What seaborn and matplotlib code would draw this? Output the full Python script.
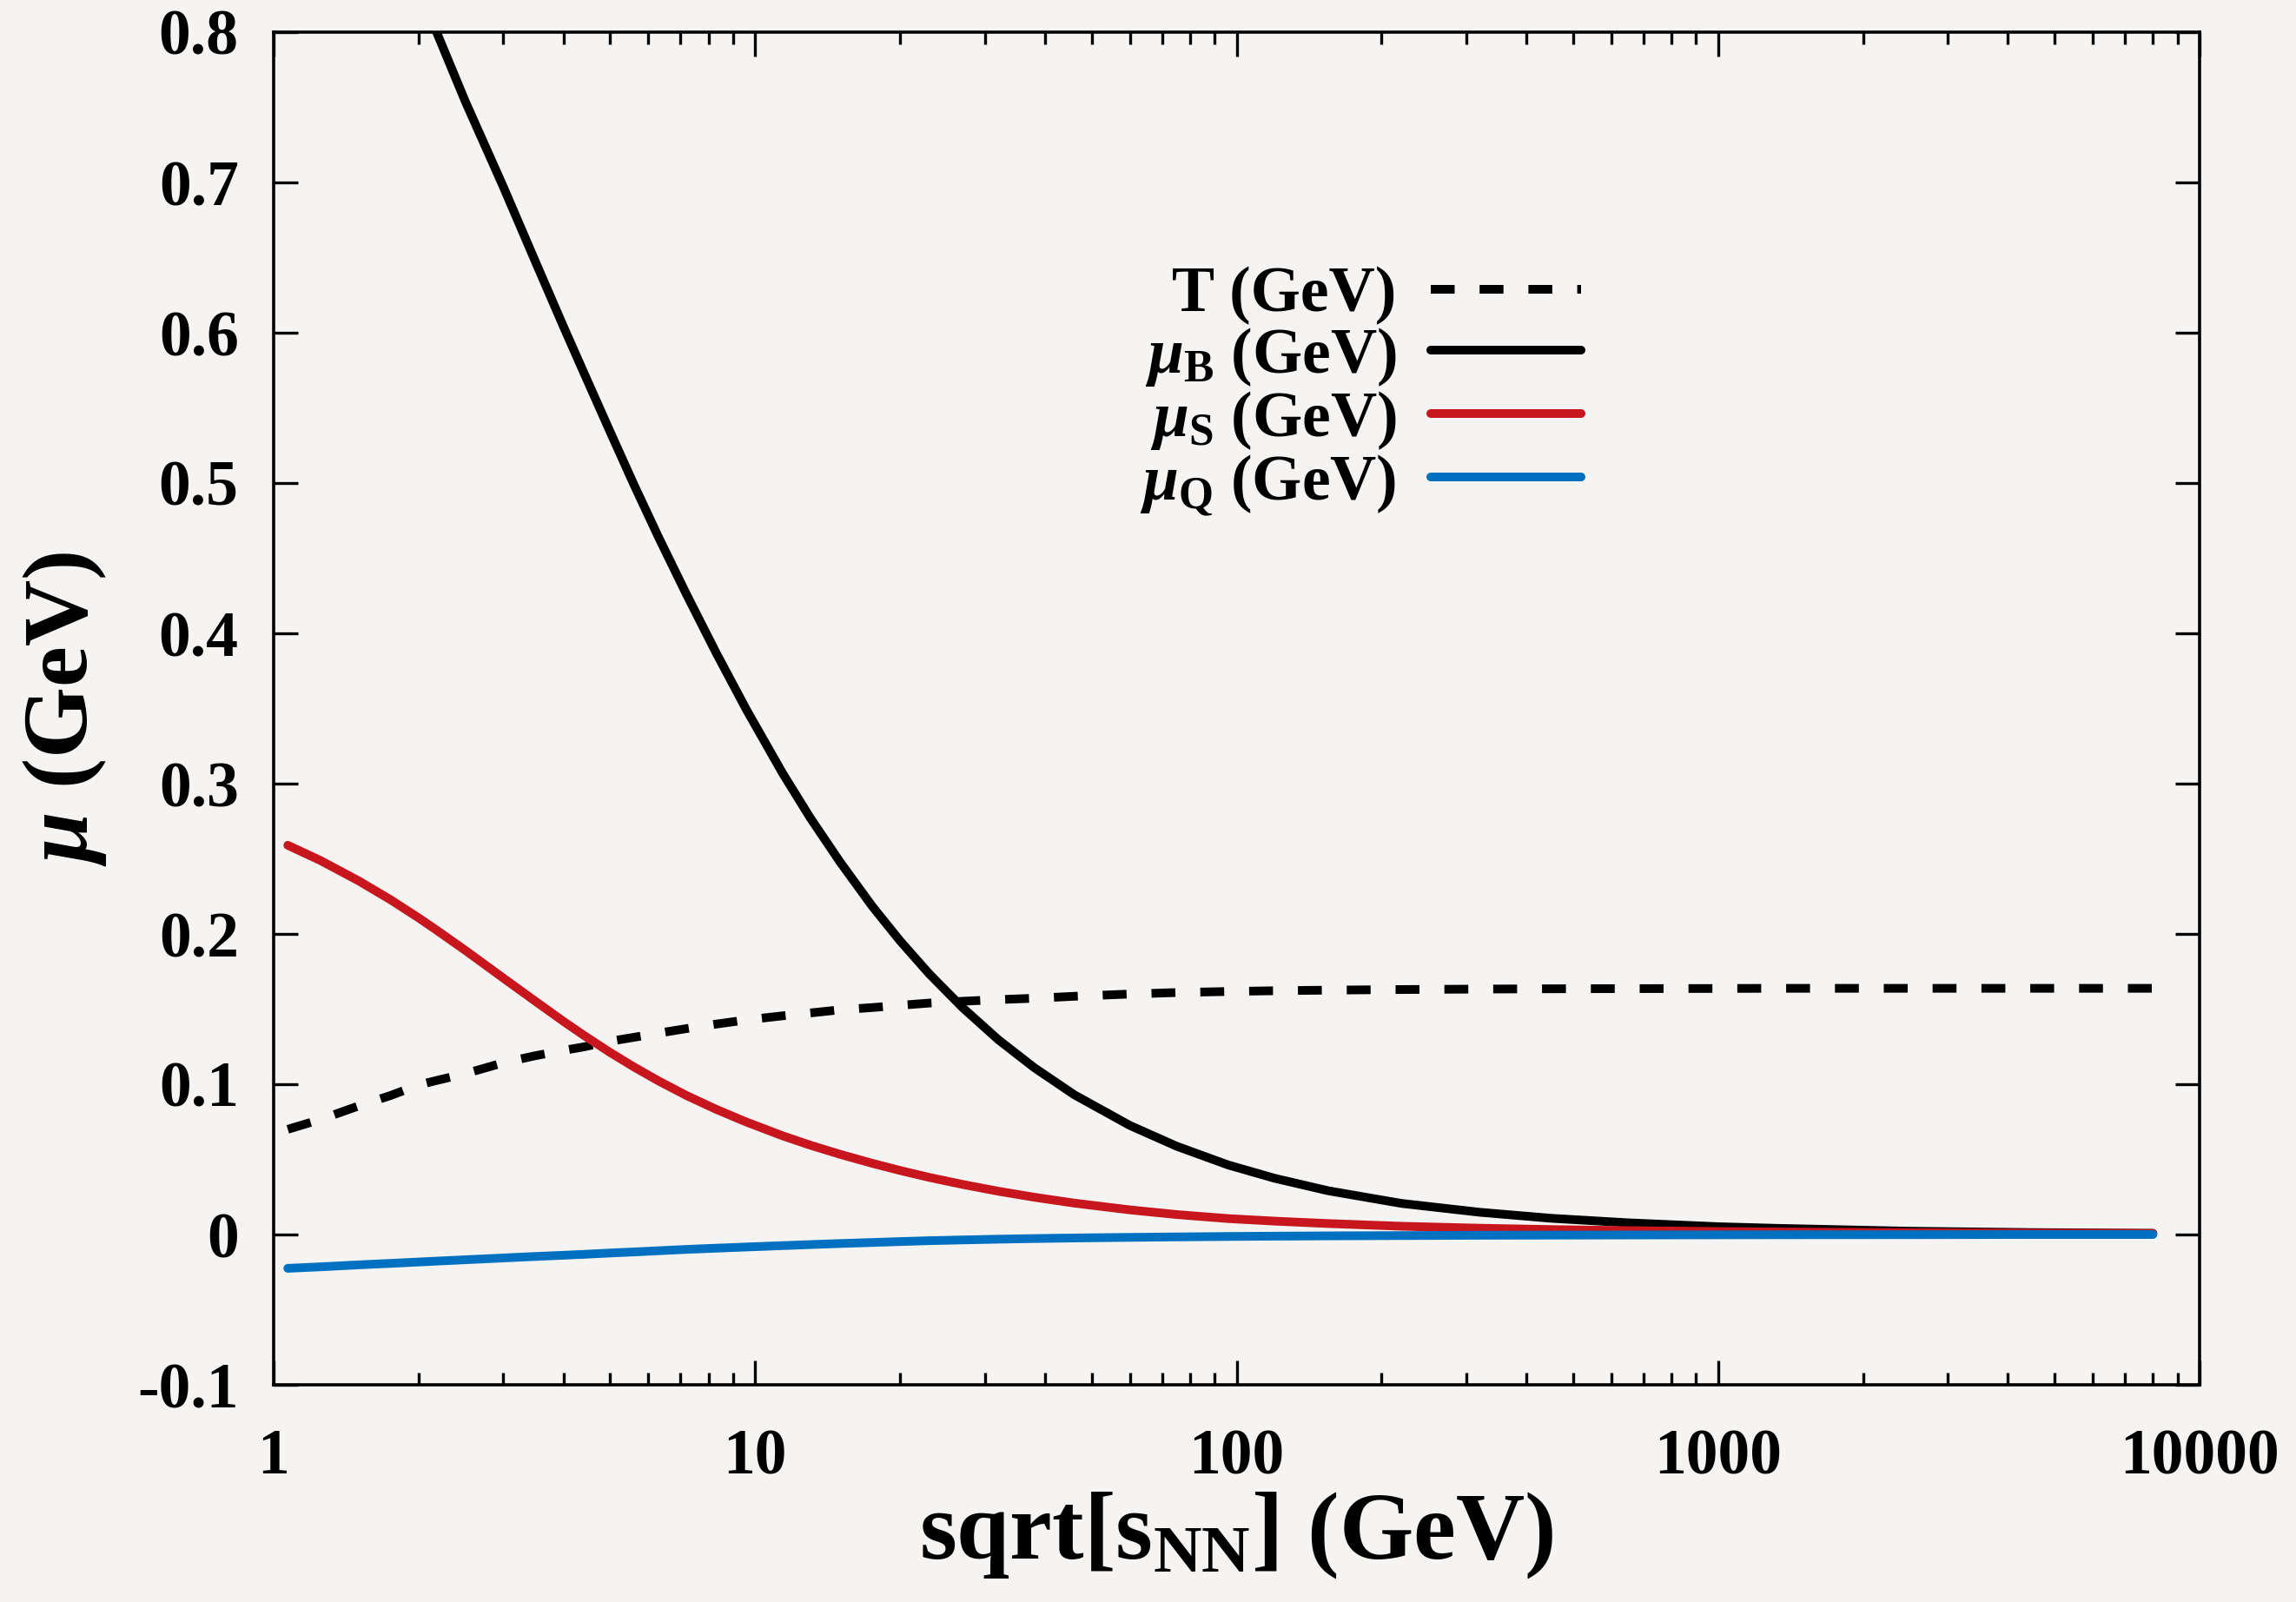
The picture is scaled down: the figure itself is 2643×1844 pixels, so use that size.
import numpy as np
import pandas as pd
import matplotlib
matplotlib.use("Agg")
import matplotlib.pyplot as plt
from matplotlib.ticker import FixedLocator, FixedFormatter, LogLocator, NullFormatter
import seaborn as sns

# values
sqrt_s = [1.07, 1.25, 1.5, 1.75, 2.0, 2.18, 2.5, 3.0, 3.5, 4.0, 4.4, 5.0, 5.6, 6.3, 7.2, 8.3, 9.6, 11.4, 13, 15,
          17.5, 20, 23, 27, 32, 38, 46, 60, 75, 96, 120, 155, 220, 320, 450, 650, 1000, 1330, 2500, 4500, 8000]
T_vals = [0.070, 0.0765, 0.0855, 0.0925, 0.0995, 0.1025, 0.107, 0.1143, 0.119, 0.1225, 0.1248, 0.1286, 0.1312,
          0.134, 0.137, 0.140, 0.1428, 0.1455, 0.1474, 0.1495, 0.151, 0.1525, 0.154, 0.1552, 0.1563, 0.1572,
          0.1585, 0.160, 0.161, 0.1617, 0.1622, 0.1626, 0.163, 0.1633, 0.1635, 0.1636, 0.1637, 0.1638, 0.1638,
          0.1638, 0.1638]
muS_vals = [0.259, 0.2489, 0.2354, 0.2227, 0.2107, 0.2025, 0.1891, 0.1706, 0.1551, 0.1418, 0.1327, 0.1211,
            0.1115, 0.1022, 0.0925, 0.0833, 0.0748, 0.0657, 0.0595, 0.0534, 0.0474, 0.0426, 0.038, 0.0333,
            0.0288, 0.0248, 0.0209, 0.0164, 0.0133, 0.0106, 0.0089, 0.0073, 0.0055, 0.0042, 0.0033, 0.0026,
            0.002, 0.0017, 0.0012, 0.0009, 0.0007]
muQ_vals = [-0.0225, -0.0215, -0.0202, -0.0192, -0.0183, -0.0177, -0.0168, -0.0156, -0.0146, -0.0138, -0.0132,
            -0.0123, -0.0116, -0.0108, -0.0099, -0.0091, -0.0083, -0.0074, -0.0067, -0.006, -0.0053, -0.0047,
            -0.0041, -0.0036, -0.0031, -0.0027, -0.0023, -0.0019, -0.0016, -0.0013, -0.0011, -0.0009, -0.0007,
            -0.0005, -0.0004, -0.0003, -0.0002, -0.00015, -0.0001, 0.0, 0.0]
# mu_B leaves the frame above 0.8 below sqrt(s) ~ 2.2
sqrt_s_B = [2.18, 2.5, 3.0, 3.5, 4.0, 4.4, 5.0, 5.6, 6.3, 7.2, 8.3, 9.6, 11.4, 13, 15, 17.5, 20, 23, 27, 32, 38,
            46, 60, 75, 96, 120, 155, 220, 320, 450, 650, 1000, 1330, 2500, 4500, 8000]
muB_vals = [0.800, 0.754, 0.697, 0.647, 0.604, 0.574, 0.534, 0.499, 0.464, 0.426, 0.387, 0.349, 0.307, 0.2775,
            0.248, 0.2185, 0.1954, 0.1734, 0.1508, 0.1296, 0.111, 0.093, 0.0726, 0.0588, 0.0463, 0.0374, 0.0291,
            0.0207, 0.0148, 0.0108, 0.0078, 0.0052, 0.0041, 0.0022, 0.0013, 0.0008]

series_names = ["T (GeV)", r"$\mu_{\rm B}$ (GeV)", r"$\mu_{\rm S}$ (GeV)", r"$\mu_{\rm Q}$ (GeV)"]
series_colors = ["#000000", "#000000", "#c8161e", "#0070c0"]

xtick_vals = [1, 10, 100, 1000, 10000]
xtick_labels = ["1", "10", "100", "1000", "10000"]
ytick_vals = [-0.1, 0.0, 0.1, 0.2, 0.3, 0.4, 0.5, 0.6, 0.7, 0.8]
ytick_labels = ["-0.1", "0", "0.1", "0.2", "0.3", "0.4", "0.5", "0.6", "0.7", "0.8"]

df = pd.concat([
    pd.DataFrame({"s": sqrt_s, "val": T_vals, "series": series_names[0]}),
    pd.DataFrame({"s": sqrt_s_B, "val": muB_vals, "series": series_names[1]}),
    pd.DataFrame({"s": sqrt_s, "val": muS_vals, "series": series_names[2]}),
    pd.DataFrame({"s": sqrt_s, "val": muQ_vals, "series": series_names[3]}),
], ignore_index=True)

sns.set_style("ticks")
bg = "#f5f4f2"
plt.rcParams["font.family"] = ["Liberation Serif", "DejaVu Serif"]
plt.rcParams["font.weight"] = "bold"
plt.rcParams["text.color"] = "black"
plt.rcParams["axes.labelcolor"] = "black"
plt.rcParams["xtick.color"] = "black"
plt.rcParams["ytick.color"] = "black"
plt.rcParams["mathtext.fontset"] = "custom"
plt.rcParams["mathtext.rm"] = "Liberation Serif:bold"
plt.rcParams["mathtext.bf"] = "Liberation Serif:bold"
plt.rcParams["mathtext.it"] = "Liberation Serif:italic"
plt.rcParams["lines.dash_capstyle"] = "butt"

fig = plt.figure(figsize=(26.43, 18.44), dpi=100, facecolor=bg)
ax = fig.add_axes([315 / 2643, 1 - 1594 / 1844, 2217 / 2643, 1557 / 1844])
ax.set_facecolor(bg)

lw = 7.2
sns.lineplot(data=df, x="s", y="val", hue="series", style="series",
             hue_order=series_names, style_order=series_names,
             palette=dict(zip(series_names, series_colors)),
             dashes={series_names[0]: (2.75, 2.87), series_names[1]: "",
                     series_names[2]: "", series_names[3]: ""},
             linewidth=lw, estimator=None, ax=ax)

ax.set_xscale("log")
ax.set_xlim(1, 10000)
ax.set_ylim(-0.1, 0.8)

ax.xaxis.set_major_locator(FixedLocator(xtick_vals))
ax.xaxis.set_major_formatter(FixedFormatter(xtick_labels))
ax.xaxis.set_minor_locator(LogLocator(base=10, subs=np.arange(2, 10)))
ax.xaxis.set_minor_formatter(NullFormatter())
ax.yaxis.set_major_locator(FixedLocator(ytick_vals))
ax.yaxis.set_major_formatter(FixedFormatter(ytick_labels))

for sp in ax.spines.values():
    sp.set_visible(True)
    sp.set_linewidth(2.6)
    sp.set_color("black")
ax.tick_params(which="both", direction="in", top=True, right=True, width=2.4, color="black")
ax.tick_params(which="major", length=20)
ax.tick_params(which="minor", length=10)
ax.tick_params(axis="y", which="major", labelsize=53, pad=29)
ax.tick_params(axis="x", which="major", labelsize=53, pad=36)
for lab in ax.get_xticklabels() + ax.get_yticklabels():
    lab.set_fontweight("bold")

ax.set_xlabel(r"sqrt[s$_{\rm NN}$] (GeV)", fontsize=79, fontweight="bold")
ax.set_ylabel(r"$\mu$ (GeV)", fontsize=76, fontweight="bold")
ax.xaxis.set_label_coords(0.5, -0.078)
ax.yaxis.set_label_coords(-0.0857, 0.5)

handles, labels = ax.get_legend_handles_labels()
leg = ax.legend(handles, labels, loc="upper right", bbox_to_anchor=(0.679, 0.827),
                frameon=False, markerfirst=False, fontsize=53, handlelength=2.35,
                handletextpad=0.54, labelspacing=0.01, borderpad=0, borderaxespad=0)
for t in leg.get_texts():
    t.set_fontweight("bold")
    t.set_ha("right")
for h in leg.get_lines():
    h.set_linewidth(lw)

fig.savefig("out.png", dpi=100, facecolor=bg)
